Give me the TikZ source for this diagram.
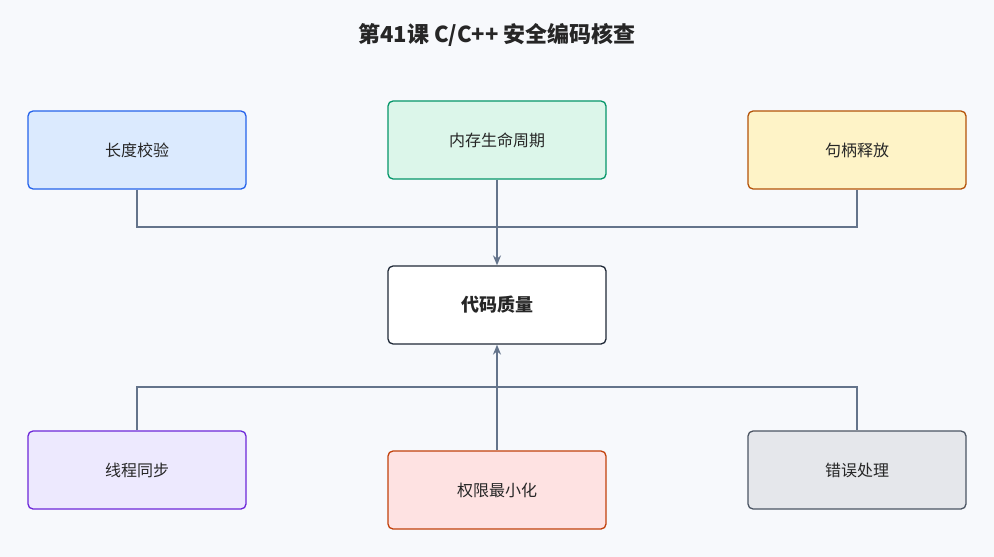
\documentclass[tikz,border=0pt]{standalone}
\usepackage{fontspec}
\setmainfont{Noto Sans CJK SC}
\usetikzlibrary{arrows.meta}
\definecolor{bg}{HTML}{F7F9FC}
\definecolor{ln}{HTML}{64748B}
\begin{document}
\begin{tikzpicture}[x=1pt,y=-1pt,
  box/.style={draw,rounded corners=5pt,line width=1.3pt,minimum width=218pt,minimum height=78pt,font=\fontsize{16}{18}\selectfont,text=black!85},
  conn/.style={draw=ln,line width=1.3pt},
  arr/.style={conn,-{Stealth[length=10pt,width=8pt]}}]
\fill[bg] (0,0) rectangle (994,557);
\useasboundingbox (0,0) rectangle (994,557);
\node[font=\bfseries\fontsize{22}{26}\selectfont,text=black!85] (title) at (497,35) {第41课 C/C++ 安全编码核查};
\node[box,fill={rgb,255:red,219;green,234;blue,254},draw={rgb,255:red,37;green,99;blue,235}] (a) at (137,150) {长度校验};
\node[box,fill={rgb,255:red,220;green,246;blue,234},draw={rgb,255:red,5;green,150;blue,105}] (b) at (497,140) {内存生命周期};
\node[box,fill={rgb,255:red,254;green,243;blue,199},draw={rgb,255:red,180;green,83;blue,9}] (c) at (857,150) {句柄释放};
\node[box,fill=white,draw={rgb,255:red,31;green,41;blue,55},font=\bfseries\fontsize{18}{20}\selectfont] (m) at (497,305) {代码质量};
\node[box,fill={rgb,255:red,237;green,233;blue,254},draw={rgb,255:red,109;green,40;blue,217}] (d) at (137,470) {线程同步};
\node[box,fill={rgb,255:red,254;green,226;blue,226},draw={rgb,255:red,194;green,65;blue,12}] (e) at (497,490) {权限最小化};
\node[box,fill={rgb,255:red,229;green,231;blue,235},draw={rgb,255:red,75;green,85;blue,99}] (f) at (857,470) {错误处理};
\coordinate (jt) at (497,227);
\coordinate (jb) at (497,387);
\draw[conn] (a.south) |- (jt) -| (c.south);
\draw[arr] (b.south) -- (m.north);
\draw[conn] (d.north) |- (jb) -| (f.north);
\draw[arr] (e.north) -- (m.south);
\end{tikzpicture}
\end{document}
